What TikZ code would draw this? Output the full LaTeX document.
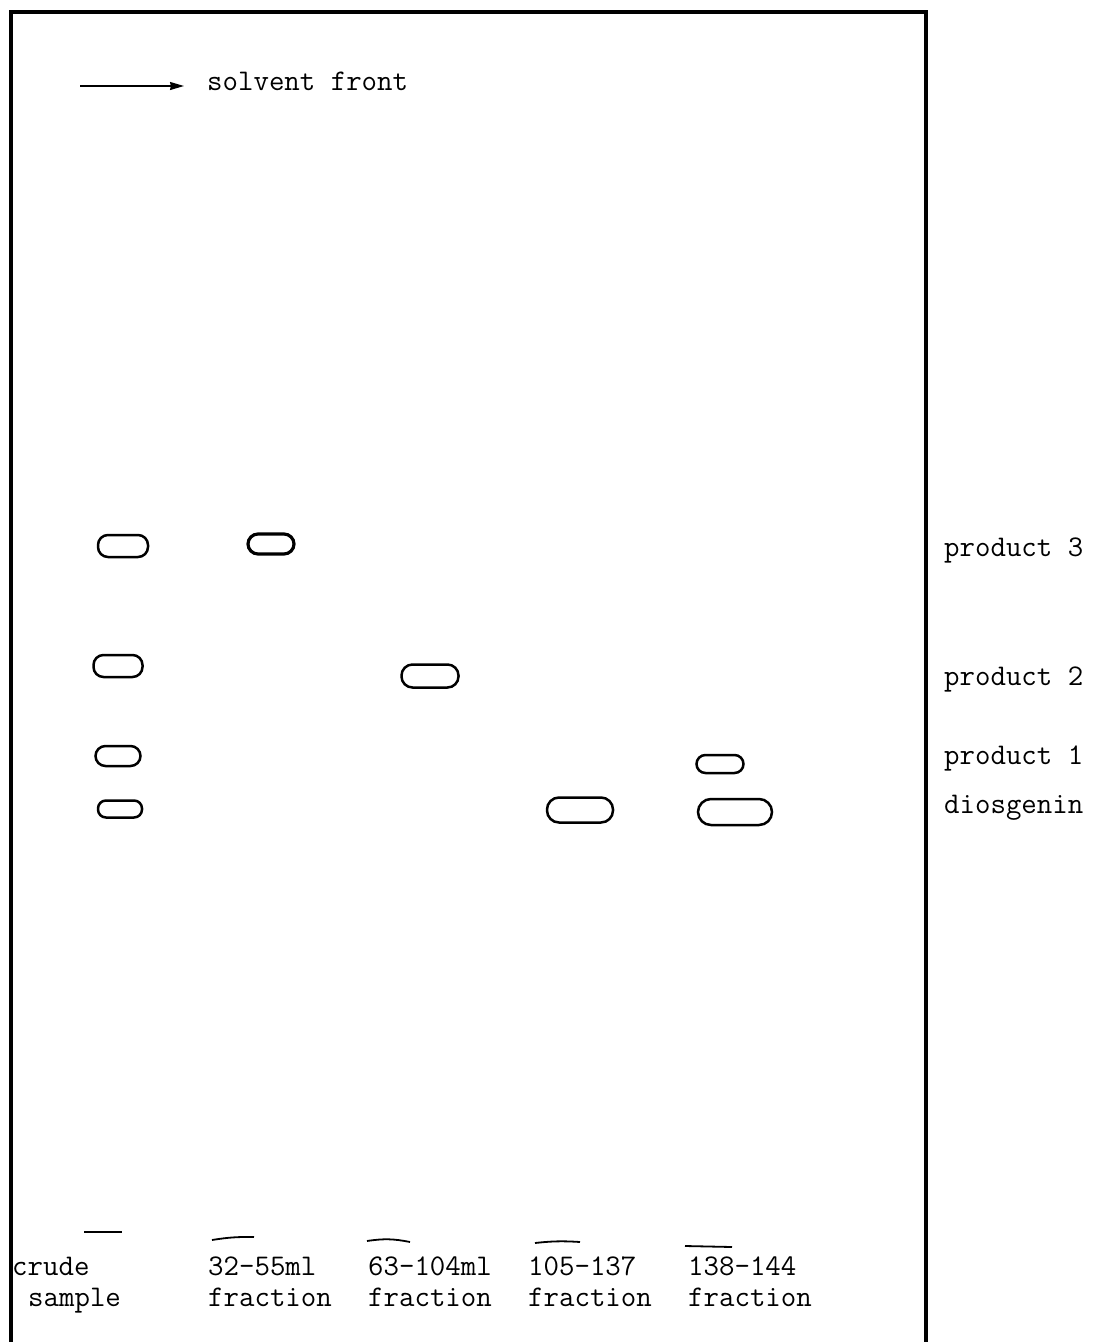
\documentclass[tikz,border=0pt]{standalone}
\usetikzlibrary{arrows.meta}
\begin{document}
\begin{tikzpicture}[x=1pt,y=-1pt,
  lbl/.style={anchor=base west,inner sep=0pt,font=\ttfamily\fontsize{30}{34}\selectfont},
  spot/.style={draw,line width=2.5pt,rounded corners=10pt,inner sep=0pt},
  origin/.style={line width=1.8pt},
  frame/.style={line width=3.2pt}]
\useasboundingbox (0,0) rectangle (1093,1342);
% plate frame
\coordinate (bl) at (11,1345);
\coordinate (tl) at (11,12);
\coordinate (tr) at (926,12);
\coordinate (br) at (926,1345);
\draw[frame] (bl) -- (tl) -- (tr) -- (br);
% solvent front
\coordinate (a0) at (80,86);
\coordinate (a1) at (184,86);
\draw[line width=1.5pt,-{Stealth[length=14pt,width=8pt,inset=1pt]}] (a0) -- (a1);
\node[lbl] (sf) at (207,90) {solvent front};
% crude sample spots
\node[spot,minimum width=50pt,minimum height=22pt] (c3) at (123,546) {};
\node[spot,minimum width=49pt,minimum height=22pt] (c2) at (118,666) {};
\node[spot,minimum width=45pt,minimum height=20pt] (c1) at (118,756) {};
\node[spot,minimum width=44pt,minimum height=17pt,rounded corners=8pt] (cd) at (120,809) {};
% fractions
\node[spot,minimum width=46pt,minimum height=20pt,line width=3.2pt] (f1) at (271,544) {};
\node[spot,minimum width=57pt,minimum height=23pt,rounded corners=11pt] (f2) at (430,676) {};
\node[spot,minimum width=66pt,minimum height=25pt,rounded corners=12pt] (f3) at (580,810) {};
\node[spot,minimum width=47pt,minimum height=18pt,rounded corners=9pt] (f4a) at (720,764) {};
\node[spot,minimum width=74pt,minimum height=26pt,rounded corners=13pt] (f4b) at (735,812) {};
% right labels
\node[lbl] (p3) at (944,556) {product 3};
\node[lbl] (p2) at (944,685) {product 2};
\node[lbl] (p1) at (944,764) {product 1};
\node[lbl] (pd) at (944,813) {diosgenin};
% origin marks
\coordinate (o1a) at (84,1232); \coordinate (o1b) at (122,1232);
\coordinate (o2a) at (212,1240); \coordinate (o2b) at (254,1237);
\coordinate (o3a) at (367,1241); \coordinate (o3b) at (410,1242);
\coordinate (o4a) at (535,1243); \coordinate (o4b) at (580,1242);
\coordinate (o5a) at (685,1246); \coordinate (o5b) at (732,1247);
\draw[origin] (o1a) -- (o1b);
\draw[origin] (o2a) to[bend left=5] (o2b);
\draw[origin] (o3a) to[bend left=10] (o3b);
\draw[origin] (o4a) to[bend left=5] (o4b);
\draw[origin] (o5a) -- (o5b);
% bottom labels
\node[lbl] (l1a) at (12,1275) {crude};
\node[lbl] (l1b) at (28,1306) {sample};
\node[lbl] (l2a) at (208,1275) {32-55ml};
\node[lbl] (l2b) at (208,1306) {fraction};
\node[lbl] (l3a) at (368,1275) {63-104ml};
\node[lbl] (l3b) at (368,1306) {fraction};
\node[lbl] (l4a) at (528,1275) {105-137};
\node[lbl] (l4b) at (528,1306) {fraction};
\node[lbl] (l5a) at (688,1275) {138-144};
\node[lbl] (l5b) at (688,1306) {fraction};
\end{tikzpicture}
\end{document}
